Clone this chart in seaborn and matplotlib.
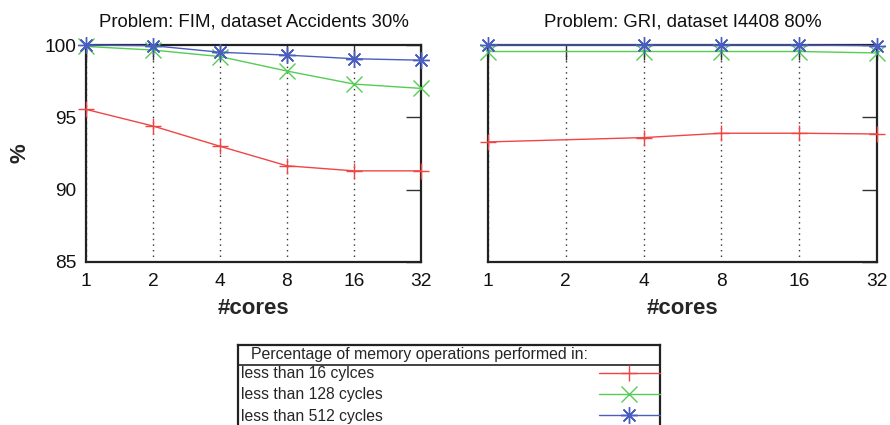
import numpy as np
import matplotlib
matplotlib.use('Agg')
import matplotlib.pyplot as plt
import seaborn as sns
from matplotlib.lines import Line2D

# Datos
cores = ['1', '2', '4', '8', '16', '32']

fim_16 = [95.55, 94.4, 93.0, 91.65, 91.3, 91.3]
fim_128 = [99.9, 99.65, 99.2, 98.2, 97.3, 97.0]
fim_512 = [100.0, 99.95, 99.5, 99.3, 99.05, 98.95]

gri_16 = [93.3, 93.45, 93.6, 93.9, 93.9, 93.85]
gri_128 = [99.55, 99.55, 99.55, 99.55, 99.55, 99.45]
gri_512 = [100.0, 100.0, 100.0, 100.0, 100.0, 99.95]

titles = ['Problem: FIM, dataset Accidents 30%', 'Problem: GRI, dataset I4408 80%']
legend_title = 'Percentage of memory operations performed in:'
labels = ['less than 16 cylces', 'less than 128 cycles', 'less than 512 cycles']
yticks = [85, 90, 95, 100]

colors = ['#f04545', '#55cc55', '#4a5ec0']
markers = ['+', 'x', (8, 2, 0)]
msizes = [11, 12, 12]

sns.set_style('white')
plt.rcParams['font.family'] = ['Liberation Sans', 'DejaVu Sans']

W, H = 890, 425
fig = plt.figure(figsize=(W / 100, H / 100), dpi=100)
ax1 = fig.add_axes([86 / W, 1 - 262 / H, 335 / W, 217 / H])
ax2 = fig.add_axes([488 / W, 1 - 262 / H, 389 / W, 217 / H])

pos = np.arange(len(cores))

panels = [
    (ax1, [fim_16, fim_128, fim_512], None),
    (ax2, [gri_16, gri_128, gri_512], [0, 2, 3, 4, 5]),
]

for i, (ax, series, mevery) in enumerate(panels):
    for vals, c, m, ms in zip(series, colors, markers, msizes):
        sns.lineplot(x=pos, y=vals, ax=ax, color=c, linewidth=1,
                     marker=m, markersize=ms, markeredgewidth=1,
                     markeredgecolor=c, markevery=mevery, clip_on=False,
                     zorder=3)
    ax.set_xlim(0, 5)
    ax.set_ylim(85, 100)
    ax.set_xticks(pos, cores)
    ax.set_yticks(yticks)
    ax.xaxis.grid(True, linestyle=(0, (1, 3)), color='#333333', linewidth=1)
    ax.yaxis.grid(False)
    ax.tick_params(direction='in', length=11, width=1, color='#333333',
                   top=True, right=True, labelsize=13.8, labelcolor='#111111')
    ax.tick_params(axis='y', pad=7)
    ax.tick_params(axis='x', pad=8)
    for sp in ax.spines.values():
        sp.set_visible(True)
        sp.set_linewidth(1.6)
        sp.set_color('#222222')
    ax.set_title(titles[i], fontsize=13.4, pad=13, color='#111111')
    ax.set_xlabel('#cores', fontsize=16, fontweight='bold', labelpad=6)
    ax.set_ylabel('')

ax1.set_ylabel('%', fontsize=16, fontweight='bold', labelpad=10)
ax2.tick_params(labelleft=False)

# Caja de la leyenda
box_bottom = -0.03
box_h = (H - 345) / H - box_bottom
lax = fig.add_axes([238 / W, box_bottom, 422 / W, box_h])
lax.set_xticks([])
lax.set_yticks([])
lax.set_facecolor('white')
for sp in lax.spines.values():
    sp.set_linewidth(1.6)
    sp.set_color('#222222')
sep_y = ((H - 365) / H - box_bottom) / box_h
lax.axhline(sep_y, color='#222222', linewidth=1.2)
fig.text(251 / W, 1 - 354 / H, legend_title, fontsize=11.4, va='center', ha='left')

handles = [Line2D([], [], color=c, marker=m, markersize=ms, markeredgewidth=1,
                  linewidth=1)
           for c, m, ms in zip(colors, markers, msizes)]
blank = [Line2D([], [], color='none') for _ in labels]

leg1 = lax.legend(blank, labels, loc='upper left', bbox_to_anchor=(241 / W, 1 - 366 / H),
                  bbox_transform=fig.transFigure, frameon=False, fontsize=11.3,
                  handlelength=0, handletextpad=0, borderpad=0, borderaxespad=0,
                  labelspacing=0.4)
lax.add_artist(leg1)
leg2 = lax.legend(handles, labels, loc='upper right', bbox_to_anchor=(660 / W, 1 - 366 / H),
                  bbox_transform=fig.transFigure, frameon=False, fontsize=11.3,
                  handlelength=3.9, handletextpad=0, borderpad=0, borderaxespad=0,
                  labelspacing=0.4, markerfirst=False)
for t in leg2.get_texts():
    t.set_color('none')

fig.savefig('out.png', dpi=100)
